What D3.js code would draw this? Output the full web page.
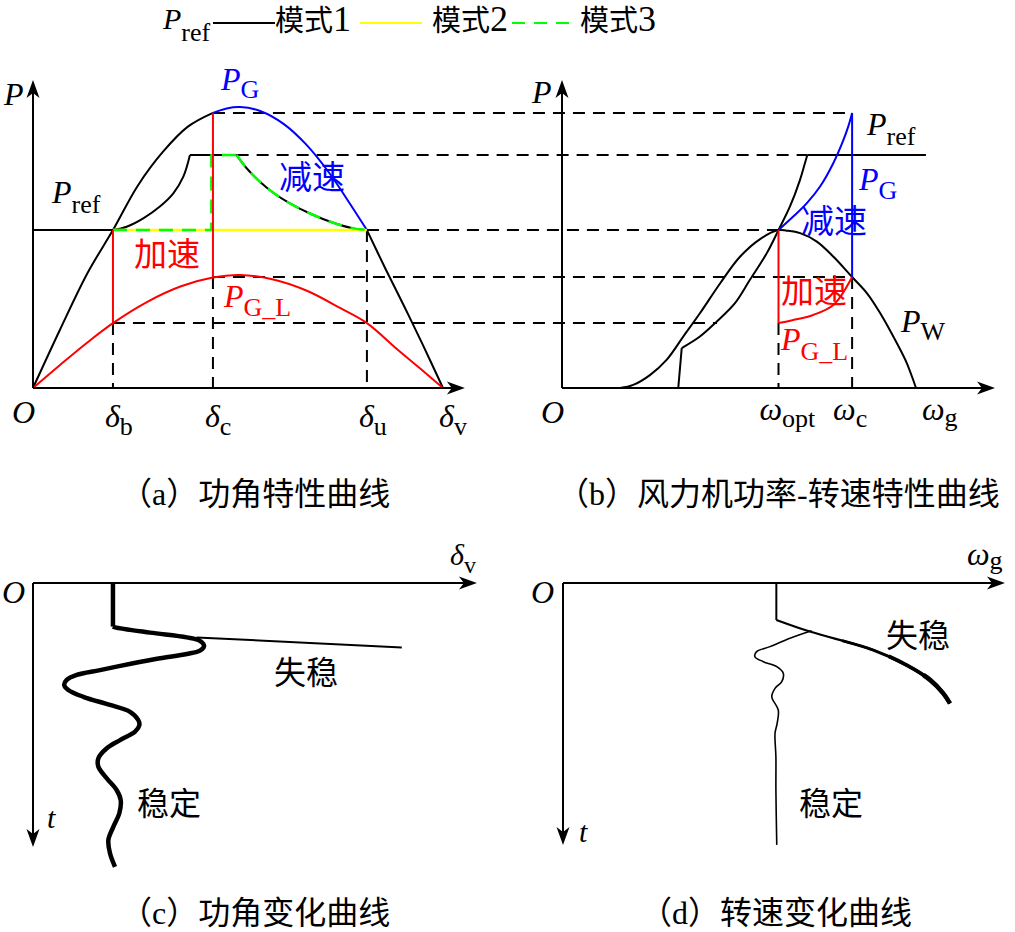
<!DOCTYPE html>
<html><head><meta charset="utf-8">
<script src="https://cdn.jsdelivr.net/npm/d3@7"></script>
<style>body{margin:0;background:#fff}svg{display:block}</style>
</head><body>
<svg id="chart" width="1015" height="932"></svg>
<script>
// ================= DATA =================
// (a) power-angle characteristic: points are [delta (deg), P (p.u.)]
const deltaTickNames  = ["b", "c", "u", "v"];
const deltaTickValues = [35.1, 79, 146.6, 180];
const pgLeft   = [[0,0],[12,0.21],[24,0.41],[35.1,0.562],[46,0.72],[57,0.84],[68,0.93],[79,0.979]];
const pgArc    = [[79,0.979],[85,0.995],[91,1.0],[100,0.985],[110,0.94],[120,0.866],[130,0.766],[138,0.67],[146.6,0.562]];
const pgRight  = [[146.6,0.562],[155,0.42],[163,0.29],[171,0.156],[180,0]];
const pglCurve = [[0,0],[12,0.083],[24,0.163],[35.1,0.231],[50,0.306],[65,0.362],[79,0.393],[91,0.402],[105,0.387],[120,0.347],[135,0.284],[146.6,0.231],[160,0.137],[170,0.069],[180,0]];
const prefInit  = [[0,0.562],[35.1,0.562]];
const mode1Rise = [[35.1,0.562],[41.1,0.574],[48.4,0.604],[55.7,0.646],[61.6,0.693],[66,0.752],[68.9,0.829]];
const mode1Flat = [[68.9,0.829],[89.4,0.829]];
const mode1Fall = [[89.4,0.829],[93.8,0.782],[99.6,0.734],[105.5,0.695],[112.8,0.657],[121.6,0.621],[131.8,0.588],[140.6,0.568],[146.6,0.562]];
const mode2Line = [[35.1,0.562],[146.6,0.562]];
const mode3Step = [[35.1,0.562],[78.3,0.562],[78.3,0.829],[89.4,0.829]];
const accelBarsA = [[[35.1,0.562],[35.1,0.231]], [[79,0.979],[79,0.395]]];
const dropLinesA = [[35.1,0.231],[79,0.395],[146.6,0.562]];
// guide levels shared by (a) and (b)
const guideLevels    = [0.979, 0.829, 0.562, 0.395, 0.231];
const guideFromDelta = [79, 89.4, 146.6, 79, 35.1];
const guideToOmega   = [1.34, 1.133, 1.0, 1.34, 0.716];

// (b) wind turbine power vs speed: points are [omega (p.u.), P (p.u.)]
const omegaTickNames  = ["opt", "c"];
const omegaTickValues = [1.0, 1.34];
const pwCurve   = [[0.268,0],[0.329,0.011],[0.406,0.046],[0.483,0.1],[0.56,0.183],[0.637,0.266],[0.73,0.372],[0.822,0.467],[0.915,0.53],[1.0,0.562],[1.038,0.56],[1.1,0.551],[1.177,0.521],[1.254,0.467],[1.34,0.395],[1.409,0.337],[1.47,0.266],[1.547,0.159],[1.593,0.088],[1.635,0]];
const mpptFoot  = [[0.537,0],[0.553,0.142]];
const mpptCurve = [[0.553,0.142],[0.637,0.183],[0.714,0.236],[0.799,0.302],[0.868,0.385],[0.946,0.48],[1.0,0.562],[1.053,0.646],[1.099,0.74],[1.122,0.8],[1.133,0.829]];
const mpptFlat  = [[1.133,0.829],[1.681,0.829]];
const pgCurveB  = [[1.0,0.562],[1.068,0.61],[1.13,0.657],[1.192,0.717],[1.253,0.8],[1.3,0.883],[1.322,0.93],[1.34,0.979]];
const pgDropB   = [[1.34,0.979],[1.34,0.395]];
const pglCurveB = [[1.0,0.231],[1.068,0.242],[1.16,0.26],[1.253,0.295],[1.34,0.395]];
const pglDropB  = [[1.0,0.562],[1.0,0.231]];
const dropLinesB = [[1.0,0.231],[1.34,0.395]];

// (c) power angle vs time: points are [delta (deg), t]
const deltaHold     = [[35.1,0],[35.1,1.65]];
const deltaStable   = [[35.1,1.65],[36.0,1.68],[51.4,1.88],[67.5,2.06],[73.3,2.19],[75.1,2.39],[73.3,2.56],[67.5,2.69],[55.8,2.85],[44.0,3.04],[29.4,3.30],[19.2,3.48],[14.8,3.67],[13.7,3.86],[15.5,4.05],[22.1,4.31],[33.8,4.62],[42.6,4.88],[46.2,5.19],[46.7,5.38],[44.8,5.63],[38.2,5.95],[32.4,6.26],[28.7,6.64],[28.7,6.96],[32.4,7.40],[36.7,7.84],[38.5,8.22],[37.9,8.72],[35.3,9.23],[33.1,9.73],[33.8,10.24],[36.0,10.75]];
const deltaUnstable = [[71.9,2.06],[161.9,2.44]];

// (d) rotor speed vs time: points are [omega (p.u.), t]
const omegaHold     = [[0.99,0],[0.99,1.40]];
const omegaUnstable = [[0.99,1.40],[1.145,1.84],[1.438,2.54],[1.592,3.11],[1.700,3.67],[1.761,4.18],[1.792,4.56]];
const omegaStable   = [[1.153,1.81],[1.053,2.09],[0.961,2.41],[0.899,2.60],[0.891,2.79],[0.93,2.98],[0.992,3.17],[1.022,3.42],[1.015,3.74],[0.984,3.99],[0.969,4.31],[0.999,4.81],[0.994,5.31],[0.984,5.69],[0.988,6.58],[0.988,7.84],[0.992,9.92]];

// legend
const legendNames  = ["模式", "模式", "模式"];
const legendNums   = ["1", "2", "3"];
const legendColors = ["#000000", "#ffff00", "#00ff00"];
const captions = ["（a）功角特性曲线", "（b）风力机功率-转速特性曲线", "（c）功角变化曲线", "（d）转速变化曲线"];

// ================= SCALES =================
const xA = d3.scaleLinear().domain([0, 180]).range([33, 443]);
const yP = d3.scaleLinear().domain([0, 1]).range([388, 107]);
const xB = d3.scaleLinear().domain([0, 2]).range([562, 995]);
const yT = d3.scaleLinear().domain([0, 10]).range([583, 847]);

const svg = d3.select("#chart");
const SERIF = "'Liberation Serif','Noto Sans CJK SC',serif";
const DASH = "12,8";

function lineA(curve) { return d3.line().x(d => xA(d[0])).y(d => yP(d[1])).curve(curve || d3.curveLinear); }
function lineB(curve) { return d3.line().x(d => xB(d[0])).y(d => yP(d[1])).curve(curve || d3.curveLinear); }
function lineC(curve) { return d3.line().x(d => xA(d[0])).y(d => yT(d[1])).curve(curve || d3.curveLinear); }
function lineD(curve) { return d3.line().x(d => xB(d[0])).y(d => yT(d[1])).curve(curve || d3.curveLinear); }
const smooth = d3.curveCatmullRom.alpha(0.5);

function draw(g, gen, data, color, width, dash) {
  const p = g.append("path").attr("d", gen(data)).attr("fill", "none")
    .attr("stroke", color).attr("stroke-width", width)
    .attr("stroke-linejoin", "round");
  if (dash) p.attr("stroke-dasharray", dash);
  return p;
}
function arrow(g, x, y, angle) {
  g.append("path").attr("d", "M0,0 L-18,-6.5 L-13,0 L-18,6.5 Z")
    .attr("transform", `translate(${x},${y}) rotate(${angle})`).attr("fill", "#000");
}
function axisH(g, x0, x1, y) {
  g.append("line").attr("x1", x0).attr("x2", x1 - 12).attr("y1", y).attr("y2", y).attr("stroke", "#000").attr("stroke-width", 2);
  arrow(g, x1, y, 0);
}
function axisV(g, x, y0, y1) {
  g.append("line").attr("x1", x).attr("x2", x).attr("y1", y0).attr("y2", y1 + (y1 < y0 ? 12 : -12)).attr("stroke", "#000").attr("stroke-width", 2);
  arrow(g, x, y1, y1 < y0 ? -90 : 90);
}
function lab(g, x, y, main, sub, o) {
  o = Object.assign({size: 32, subSize: 26, dy: 8, color: "#000"}, o || {});
  const t = g.append("text").attr("x", x).attr("y", y).attr("fill", o.color)
    .style("font-family", SERIF).style("font-size", o.size + "px");
  t.append("tspan").style("font-style", "italic").text(main);
  if (sub) t.append("tspan").attr("dy", o.dy).style("font-size", o.subSize + "px").text(sub);
  return t;
}
function cjk(g, x, y, s, size, color) {
  return g.append("text").attr("x", x).attr("y", y).attr("fill", color || "#000")
    .style("font-family", SERIF).style("font-size", size + "px").text(s);
}

// ================= LEGEND =================
const leg = svg.append("g");
lab(leg, 163, 29, "P", "ref", {size: 30, dy: 12, subSize: 26});
const legX = [213, 360, 512], legTextX = [275, 432, 580];
legendNames.forEach((n, i) => {
  leg.append("line").attr("x1", legX[i]).attr("x2", legX[i] + 62).attr("y1", 23).attr("y2", 23)
    .attr("stroke", legendColors[i]).attr("stroke-width", 2)
    .attr("stroke-dasharray", i === 2 ? "13,9" : null);
  const t = cjk(leg, legTextX[i], 31, n, 29);
  t.append("tspan").style("font-size", "36px").text(legendNums[i]);
});

// ================= GUIDES spanning (a) and (b) =================
const guides = svg.append("g");
guideLevels.forEach((p, i) => {
  guides.append("line").attr("x1", xA(guideFromDelta[i])).attr("x2", xB(guideToOmega[i]))
    .attr("y1", yP(p)).attr("y2", yP(p)).attr("stroke", "#000").attr("stroke-width", 2).attr("stroke-dasharray", DASH);
});

// ================= PANEL (a) =================
const ga = svg.append("g");
dropLinesA.forEach(d => draw(ga, lineA(), [[d[0], d[1]], [d[0], 0]], "#000", 2, DASH));
draw(ga, lineA(smooth), pgLeft, "#000", 2);
draw(ga, lineA(smooth), pgRight, "#000", 2);
draw(ga, lineA(smooth), pgArc, "#0000ff", 2);
draw(ga, lineA(), prefInit, "#000", 2);
draw(ga, lineA(smooth), mode1Rise, "#000", 2);
draw(ga, lineA(), mode1Flat, "#000", 2);
draw(ga, lineA(smooth), mode1Fall, "#000", 2);
draw(ga, lineA(), mode2Line, "#ffff00", 2.5);
draw(ga, lineA(), mode3Step, "#00ff00", 2.5, "14,9");
draw(ga, lineA(smooth), mode1Fall, "#00ff00", 2.5, "14,9");
draw(ga, lineA(smooth), pglCurve, "#ff0000", 2);
accelBarsA.forEach(b => draw(ga, lineA(), b, "#ff0000", 2));
axisH(ga, 33, xA(189.6), yP(0));
axisV(ga, 33, yP(0), yP(1.096));
lab(ga, 4, 105, "P");
lab(ga, 12, 423, "O");
deltaTickNames.forEach((n, i) => lab(ga, xA(deltaTickValues[i]) - (i === 3 ? 4 : 8), 427, "δ", n, {dy: 8}));
lab(ga, 221, 90, "P", "G", {color: "#0000ff"});
lab(ga, 52, 203, "P", "ref", {dy: 10});
lab(ga, 224, 307, "P", "G_L", {color: "#ff0000", dy: 9});
cjk(ga, 279, 189, "减速", 33, "#0000ff");
cjk(ga, 134, 266, "加速", 33, "#ff0000");

// ================= PANEL (b) =================
const gb = svg.append("g");
dropLinesB.forEach(d => draw(gb, lineB(), [[d[0], d[1]], [d[0], 0]], "#000", 2, DASH));
draw(gb, lineB(smooth), pwCurve, "#000", 2);
draw(gb, lineB(), mpptFoot, "#000", 2);
draw(gb, lineB(smooth), mpptCurve, "#000", 2);
draw(gb, lineB(), mpptFlat, "#000", 2);
draw(gb, lineB(smooth), pgCurveB, "#0000ff", 2);
draw(gb, lineB(), pgDropB, "#0000ff", 2);
draw(gb, lineB(smooth), pglCurveB, "#ff0000", 2);
draw(gb, lineB(), pglDropB, "#ff0000", 2);
axisH(gb, 562, xB(2), yP(0));
axisV(gb, 562, yP(0), yP(1.096));
lab(gb, 532, 103, "P");
lab(gb, 541, 423, "O");
omegaTickNames.forEach((n, i) => lab(gb, xB(omegaTickValues[i]) - 19, 420, "ω", n, {dy: 7}));
lab(gb, 922, 420, "ω", "g", {dy: 6});
lab(gb, 867, 135, "P", "ref", {dy: 10});
lab(gb, 859, 190, "P", "G", {color: "#0000ff", dy: 9});
lab(gb, 781, 350, "P", "G_L", {color: "#ff0000", dy: 10});
lab(gb, 901, 332, "P", "W", {dy: 8});
cjk(gb, 801, 233, "减速", 33, "#0000ff");
cjk(gb, 781, 303, "加速", 33, "#ff0000");

// ================= PANEL (c) =================
const gc = svg.append("g");
draw(gc, lineC(), deltaHold, "#000", 4.5).attr("stroke-linecap", "butt");
draw(gc, lineC(smooth), deltaStable, "#000", 4.5);
draw(gc, lineC(), deltaUnstable, "#000", 2);
axisH(gc, 33, xA(194.9), yT(0));
axisV(gc, 33, yT(0), yT(10));
lab(gc, 450, 565, "δ", "v", {size: 30, subSize: 24, dy: 8});
lab(gc, 2, 603, "O");
lab(gc, 47, 828, "t", null, {size: 30});
cjk(gc, 274, 684, "失稳", 32);
cjk(gc, 137, 815, "稳定", 32);

// ================= PANEL (d) =================
const gd = svg.append("g");
draw(gd, lineD(), omegaHold, "#000", 2);
// unstable branch: same smooth path, thickening towards its end
const uPath = draw(gd, lineD(smooth), omegaUnstable, "#000", 2.2);
const uLen = uPath.node().getTotalLength();
[[0.35, 3], [0.6, 3.8], [0.8, 4.6]].forEach(([f, w]) => {
  draw(gd, lineD(smooth), omegaUnstable, "#000", w, `0 ${uLen * f} ${uLen * 2}`);
});
draw(gd, lineD(smooth), omegaStable, "#000", 1.6);
axisH(gd, xB(0) + 1, xB(2.046), yT(0));
axisV(gd, xB(0) + 1, yT(0), yT(9.92));
lab(gd, 967, 565, "ω", "g", {dy: 4});
lab(gd, 531, 603, "O");
lab(gd, 579, 842, "t", null, {size: 30});
cjk(gd, 886, 647, "失稳", 32);
cjk(gd, 799, 815, "稳定", 32);

// ================= CAPTIONS =================
const capX = [120, 557, 120, 640], capY = [505, 505, 924, 924];
captions.forEach((c, i) => cjk(svg, capX[i], capY[i], c, 32));
</script>
</body></html>
